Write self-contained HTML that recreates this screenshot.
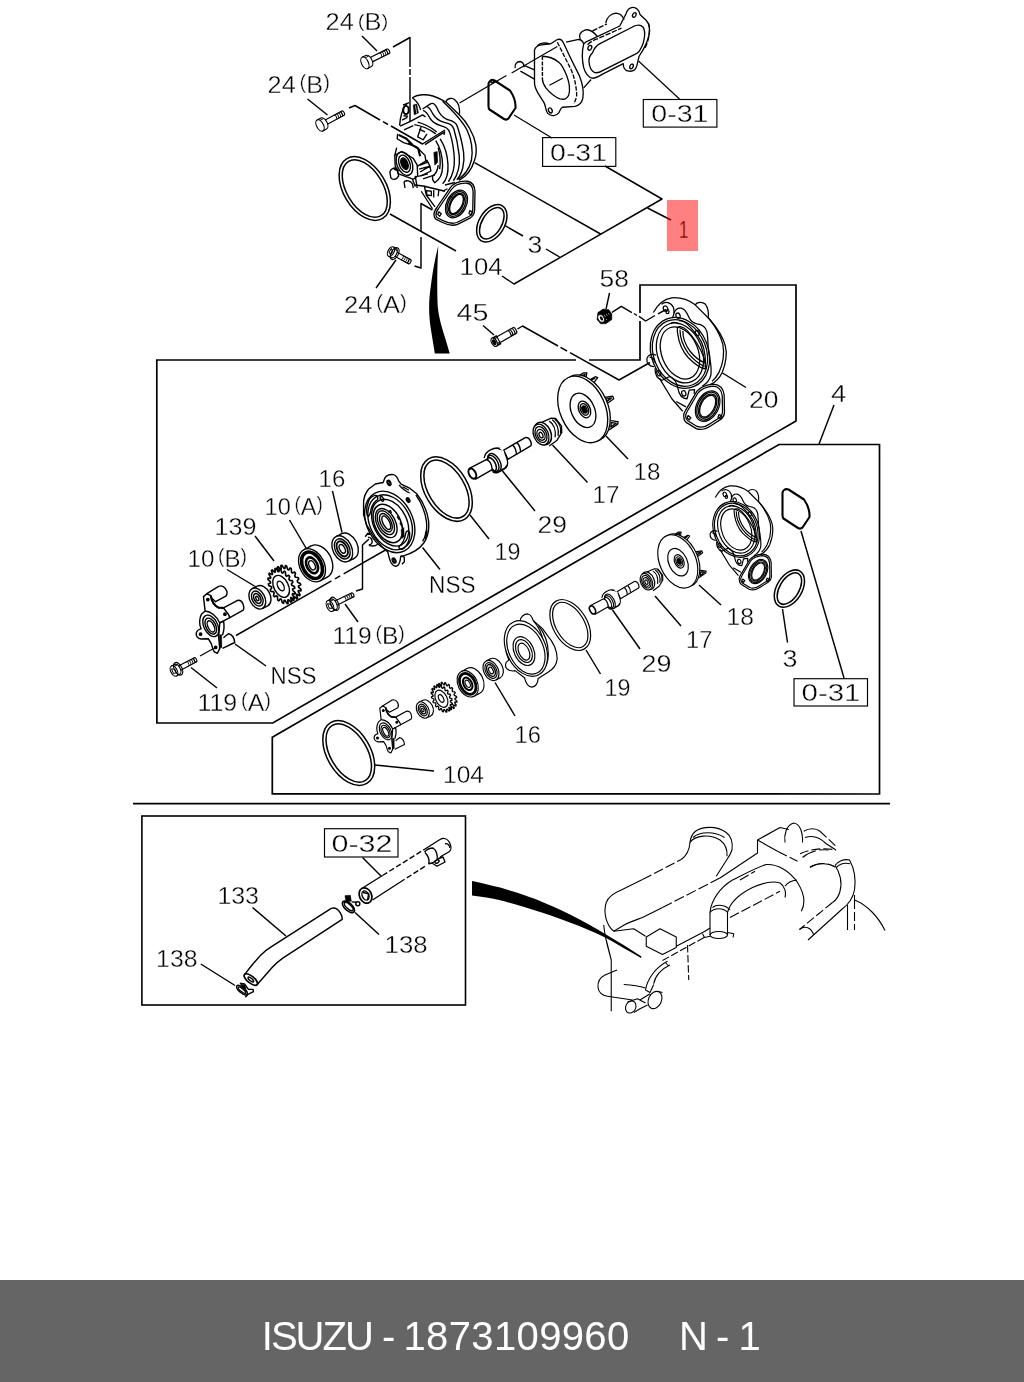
<!DOCTYPE html>
<html><head><meta charset="utf-8"><title>ISUZU - 1873109960 N - 1</title>
<style>
html,body{margin:0;padding:0;background:#fff}
body{width:1024px;height:1382px;overflow:hidden;position:relative;font-family:"Liberation Sans",sans-serif}
svg{position:absolute;left:0;top:0;display:block}
#bar{position:absolute;left:0;top:1280px;width:1024px;height:102px;background:#656565}
#cap{position:absolute;left:0;top:1280px;width:1024px;height:102px;color:#fff;font-size:40px;line-height:102px;white-space:pre;filter:grayscale(1)}
#cap span{position:absolute;top:5px}
</style></head><body>
<svg width="1024" height="1382" viewBox="0 0 1024 1382" font-family="'Liberation Sans',sans-serif" fill="none" stroke="#000" stroke-width="1.2" stroke-linecap="butt" stroke-linejoin="round">
<g stroke-width="1.7" stroke-linejoin="miter">
<path d="M576 360 L156.8 360 L156.9 723 L272.8 723 L796 421 L796 285 L640 285 L640 313 M640 321 L640 360 L589 360"/>
<path d="M779 444.5 L879.5 444.5 L879.5 794 L272.3 793.8 L272.3 737.2 Z"/>
<path d="M133 803.7 L890 803.7"/>
<rect x="141.9" y="816" width="323.6" height="189" stroke-width="1.6"/>
</g>
<g stroke-width="1.15" stroke-linejoin="miter">
<rect x="643.3" y="99.5" width="73.6" height="27.6"/>
<rect x="542.6" y="137.6" width="73.2" height="28.8"/>
<rect x="794" y="678.7" width="73.5" height="27.3"/>
<rect x="324.5" y="828.7" width="73.5" height="28.3"/>
</g>
<g stroke-linejoin="miter" style="filter:grayscale(1)">
<text x="325.6" y="30.3" font-size="23.2" textLength="62.7" lengthAdjust="spacingAndGlyphs" fill="#000" stroke="#fff" stroke-width="0.35">24<tspan font-size="12.8"> </tspan><tspan font-size="18.6" dy="-3.5">(</tspan><tspan dy="3.5">B</tspan><tspan font-size="18.6" dy="-3.5">)</tspan></text>
<text x="267.6" y="93.0" font-size="24.1" textLength="62.3" lengthAdjust="spacingAndGlyphs" fill="#000" stroke="#fff" stroke-width="0.35">24<tspan font-size="13.3"> </tspan><tspan font-size="19.3" dy="-3.6">(</tspan><tspan dy="3.6">B</tspan><tspan font-size="19.3" dy="-3.6">)</tspan></text>
<text x="651.3" y="122.0" font-size="24.1" textLength="57.2" lengthAdjust="spacingAndGlyphs" fill="#000" stroke="#fff" stroke-width="0.35">0-31</text>
<text x="550.1" y="161.0" font-size="24.1" textLength="56.9" lengthAdjust="spacingAndGlyphs" fill="#000" stroke="#fff" stroke-width="0.35">0-31</text>
<text x="527.6" y="252.5" font-size="23.4" textLength="14.8" lengthAdjust="spacingAndGlyphs" fill="#000" stroke="#fff" stroke-width="0.35">3</text>
<text x="459.6" y="275.0" font-size="24.1" textLength="42.9" lengthAdjust="spacingAndGlyphs" fill="#000" stroke="#fff" stroke-width="0.35">104</text>
<text x="344.0" y="313.0" font-size="24.8" textLength="62.9" lengthAdjust="spacingAndGlyphs" fill="#000" stroke="#fff" stroke-width="0.35">24<tspan font-size="13.6"> </tspan><tspan font-size="19.8" dy="-3.7">(</tspan><tspan dy="3.7">A</tspan><tspan font-size="19.8" dy="-3.7">)</tspan></text>
<text x="456.6" y="321.0" font-size="24.1" textLength="31.9" lengthAdjust="spacingAndGlyphs" fill="#000" stroke="#fff" stroke-width="0.35">45</text>
<text x="599.6" y="287.0" font-size="23.4" textLength="29.3" lengthAdjust="spacingAndGlyphs" fill="#000" stroke="#fff" stroke-width="0.35">58</text>
<text x="749.1" y="408.0" font-size="24.1" textLength="29.4" lengthAdjust="spacingAndGlyphs" fill="#000" stroke="#fff" stroke-width="0.35">20</text>
<text x="831.1" y="402.0" font-size="24.1" textLength="15.4" lengthAdjust="spacingAndGlyphs" fill="#000" stroke="#fff" stroke-width="0.35">4</text>
<text x="633.6" y="479.5" font-size="24.1" textLength="26.9" lengthAdjust="spacingAndGlyphs" fill="#000" stroke="#fff" stroke-width="0.35">18</text>
<text x="592.6" y="503.0" font-size="24.1" textLength="26.9" lengthAdjust="spacingAndGlyphs" fill="#000" stroke="#fff" stroke-width="0.35">17</text>
<text x="318.6" y="487.0" font-size="24.1" textLength="26.7" lengthAdjust="spacingAndGlyphs" fill="#000" stroke="#fff" stroke-width="0.35">16</text>
<text x="264.6" y="514.5" font-size="24.1" textLength="58.3" lengthAdjust="spacingAndGlyphs" fill="#000" stroke="#fff" stroke-width="0.35">10<tspan font-size="13.3"> </tspan><tspan font-size="19.3" dy="-3.6">(</tspan><tspan dy="3.6">A</tspan><tspan font-size="19.3" dy="-3.6">)</tspan></text>
<text x="214.6" y="535.0" font-size="24.1" textLength="41.9" lengthAdjust="spacingAndGlyphs" fill="#000" stroke="#fff" stroke-width="0.35">139</text>
<text x="187.5" y="566.5" font-size="24.8" textLength="59.4" lengthAdjust="spacingAndGlyphs" fill="#000" stroke="#fff" stroke-width="0.35">10<tspan font-size="13.6"> </tspan><tspan font-size="19.8" dy="-3.7">(</tspan><tspan dy="3.7">B</tspan><tspan font-size="19.8" dy="-3.7">)</tspan></text>
<text x="537.6" y="533.0" font-size="24.1" textLength="29.4" lengthAdjust="spacingAndGlyphs" fill="#000" stroke="#fff" stroke-width="0.35">29</text>
<text x="494.6" y="559.5" font-size="24.1" textLength="25.9" lengthAdjust="spacingAndGlyphs" fill="#000" stroke="#fff" stroke-width="0.35">19</text>
<text x="429.1" y="592.5" font-size="24.1" textLength="46.4" lengthAdjust="spacingAndGlyphs" fill="#000" stroke="#fff" stroke-width="0.35">NSS</text>
<text x="332.5" y="643.5" font-size="24.8" textLength="72.4" lengthAdjust="spacingAndGlyphs" fill="#000" stroke="#fff" stroke-width="0.35">119<tspan font-size="13.6"> </tspan><tspan font-size="19.8" dy="-3.7">(</tspan><tspan dy="3.7">B</tspan><tspan font-size="19.8" dy="-3.7">)</tspan></text>
<text x="270.5" y="683.5" font-size="24.8" textLength="46.0" lengthAdjust="spacingAndGlyphs" fill="#000" stroke="#fff" stroke-width="0.35">NSS</text>
<text x="197.5" y="710.5" font-size="24.8" textLength="73.4" lengthAdjust="spacingAndGlyphs" fill="#000" stroke="#fff" stroke-width="0.35">119<tspan font-size="13.6"> </tspan><tspan font-size="19.8" dy="-3.7">(</tspan><tspan dy="3.7">A</tspan><tspan font-size="19.8" dy="-3.7">)</tspan></text>
<text x="726.6" y="624.5" font-size="24.1" textLength="27.4" lengthAdjust="spacingAndGlyphs" fill="#000" stroke="#fff" stroke-width="0.35">18</text>
<text x="686.1" y="648.0" font-size="24.1" textLength="26.4" lengthAdjust="spacingAndGlyphs" fill="#000" stroke="#fff" stroke-width="0.35">17</text>
<text x="641.6" y="672.0" font-size="24.1" textLength="29.9" lengthAdjust="spacingAndGlyphs" fill="#000" stroke="#fff" stroke-width="0.35">29</text>
<text x="604.6" y="696.0" font-size="24.1" textLength="25.9" lengthAdjust="spacingAndGlyphs" fill="#000" stroke="#fff" stroke-width="0.35">19</text>
<text x="782.6" y="667.0" font-size="24.1" textLength="14.9" lengthAdjust="spacingAndGlyphs" fill="#000" stroke="#fff" stroke-width="0.35">3</text>
<text x="801.6" y="701.0" font-size="24.1" textLength="58.9" lengthAdjust="spacingAndGlyphs" fill="#000" stroke="#fff" stroke-width="0.35">0-31</text>
<text x="514.6" y="742.5" font-size="24.1" textLength="26.4" lengthAdjust="spacingAndGlyphs" fill="#000" stroke="#fff" stroke-width="0.35">16</text>
<text x="443.1" y="782.5" font-size="24.1" textLength="40.9" lengthAdjust="spacingAndGlyphs" fill="#000" stroke="#fff" stroke-width="0.35">104</text>
<text x="331.5" y="851.5" font-size="24.8" textLength="61.0" lengthAdjust="spacingAndGlyphs" fill="#000" stroke="#fff" stroke-width="0.35">0-32</text>
<text x="217.4" y="904.0" font-size="24.1" textLength="41.6" lengthAdjust="spacingAndGlyphs" fill="#000" stroke="#fff" stroke-width="0.35">133</text>
<text x="156.1" y="967.0" font-size="24.1" textLength="41.4" lengthAdjust="spacingAndGlyphs" fill="#000" stroke="#fff" stroke-width="0.35">138</text>
<text x="384.6" y="953.0" font-size="24.1" textLength="42.9" lengthAdjust="spacingAndGlyphs" fill="#000" stroke="#fff" stroke-width="0.35">138</text>
</g>
<rect x="667" y="200" width="31" height="51" fill="#ff8080" stroke="none"/>
<text x="679.1" y="238.0" font-size="24.1" textLength="9.4" lengthAdjust="spacingAndGlyphs" fill="#800000" stroke="#ff8080" stroke-width="0.3">1</text>
<g stroke-width="1.45">
<path d="M362 36 L377 51"/>
<path d="M307.5 99 L327.5 115"/>
<path d="M376 288 L396 260"/>
<path d="M390 214 L456 251"/>
<path d="M605 166 L662 199 L514 284 L502 276"/>
<path d="M647.5 208 L667 218"/>
<path d="M474.6 162.6 L600.6 234"/>
<path d="M546 249 L559.6 257"/>
<path d="M505 225.6 L523 236"/>
<path d="M483 325.5 L494 335"/>
<path d="M609.5 293 L606.1 308.8"/>
<path d="M722.5 373 L746 387.5"/>
<path d="M834 405 L819 444"/>
<path d="M606 436 L628 459"/>
<path d="M552.5 445 L587.5 482.5"/>
<path d="M332.5 491 L342 532.5"/>
<path d="M289.5 520 L306 548"/>
<path d="M255 536 L274 561"/>
<path d="M227 569.5 L256 587"/>
<path d="M502.5 471 L535 511"/>
<path d="M470 515 L489 539"/>
<path d="M422.5 547.5 L440 569.5"/>
<path d="M345 604 L358 622"/>
<path d="M235 644 L266 666"/>
<path d="M191 667.5 L217 688"/>
<path d="M699 585 L721 605"/>
<path d="M655 596 L681 626"/>
<path d="M612.5 610 L640 649"/>
<path d="M586 650 L600.5 674"/>
<path d="M782.5 609 L787.5 642.5"/>
<path d="M801 531 L844 678"/>
<path d="M495 682.5 L515 716"/>
<path d="M375 765 L434 771"/>
<path d="M252.5 907.5 L286 936"/>
<path d="M200.8 964 L235 985.5"/>
<path d="M355 912.5 L379 934.5"/>
<path d="M362.5 857.5 L381 876"/>
<path d="M667 218 L671 220" stroke="#800000"/>
<path d="M393 47 L410 37.5 L410 67"/>
<path d="M410 69 L410 75"/>
<path d="M410 77 L410 122"/>
<path d="M349 108 L355 105.5 L380 120"/>
<path d="M383 121.7 L388 124.5"/>
<path d="M391 126 L422.5 144 L445 130"/>
<path d="M414.5 266 L421 268 L421 237"/>
<path d="M421 231 L421 203.5 L432.5 210"/>
<path d="M517.5 329 L522.5 326 L558 346"/>
<path d="M560.5 347.4 L567 351"/>
<path d="M570 352.6 L619 380 L650 362.5"/>
<path d="M612 312.3 L621.3 306.4 L631.9 312.6"/>
<path d="M634 313.5 L636.9 315.5"/>
<path d="M638.9 316.4 L645.7 321 L655 315.5"/>
<path d="M658 313.8 L666 309.5"/>
<path d="M356 591 L362.5 589 L362.5 545 L369 539"/>
<path d="M236 635.5 L392.5 546" stroke-dasharray="110 4 6 4"/>
</g>
<g transform="translate(364.75 188.5) rotate(-30.8)" stroke-width="1.5"><ellipse rx="21.4" ry="34.9"/><ellipse rx="18.2" ry="31.7"/></g>
<g transform="translate(491.8 223.3) rotate(31)" stroke-width="1.5"><ellipse rx="12.8" ry="20.4"/><ellipse rx="9.8" ry="17.4"/></g>
<g transform="translate(446.5 489.1) rotate(-30.8)" stroke-width="1.5"><ellipse rx="21.5" ry="35.2"/><ellipse rx="18.2" ry="31.900000000000002"/></g>
<g transform="translate(570.25 625) rotate(-30.8)" stroke-width="1.2"><ellipse rx="17" ry="27.8"/><ellipse rx="14.2" ry="25.0"/></g>
<g transform="translate(348.75 753) rotate(-30.8)" stroke-width="1.5"><ellipse rx="21.6" ry="35.4"/><ellipse rx="18.3" ry="32.1"/></g>
<g transform="translate(789.4 588.6) rotate(31)" stroke-width="1.5"><ellipse rx="12.7" ry="20.4"/><ellipse rx="9.7" ry="17.4"/></g>
<path d="M784 490 Q786 488.5 788.5 489.5 L804 499.5 Q810 508 809.5 517 L802.5 527.5 Q800.5 529.5 798 528 L783.5 518.5 Q782.5 517.5 782.5 515 L782.5 493 Q782.5 491 784 490Z" stroke-width="2.1"/>
<path d="M490 81 Q492 79.5 494.5 80.5 L510 90.5 Q516 99 515.5 108 L508.5 118.5 Q506.5 120.5 504 119 L489.5 109.5 Q488.5 108.5 488.5 106 L488.5 84 Q488.5 82 490 81Z" stroke-width="2.1"/>
<path d="M438.3 245.4 C436 255 433.3 267 431 285 C428.5 300 428.5 315 431 330 L434.8 353.5 L449.7 353.5 C446 340 443.5 333 442.6 329.75 C439 318 437.5 308 437.5 301.6 C437 285 437.2 267 438.3 245.4Z" fill="#000" stroke="none"/>
<path d="M472 880.9 C482 883 491 885.2 500.2 887.6 C512 891 524 894.6 535.3 899 C547 903.8 559 909 570.5 914.8 C582 920.8 594 927.3 605.6 934.2 C617 941 629 948.3 641.5 956.5 L641 958 C629 951 617 944 605.6 937.7 C594 932 582 927 570.5 922.7 C559 918.3 547 914 535.3 910.4 C524 907 512 903.3 500.2 900.2 C491 898.3 482 896.8 472 895.5Z" fill="#000" stroke="none"/>
<g transform="translate(384 88) scale(0.0976562)" stroke-width="14.08">
<path d="M290 100 C340 65 430 60 500 82 C560 100 600 125 632 142"/>
<path d="M632 142 C645 105 700 95 725 120 C760 150 778 210 773 265"/>
<path d="M632 142 L770 275 C850 350 920 470 940 580 C950 650 940 710 925 745 C900 830 850 900 770 945"/>
<path d="M600 135 C700 230 800 330 850 430 C900 540 910 660 895 740 C875 820 830 890 760 935"/>
<path d="M290 100 C330 130 365 180 375 225"/>
<path d="M395 215 L480 160 C510 150 530 175 545 210 C565 260 600 300 640 320 C690 335 730 340 745 380 C775 460 800 560 815 660 C830 770 800 880 745 940"/>
<path d="M440 190 C470 200 480 230 500 265 C520 300 560 335 610 350 C660 365 700 370 715 420 C740 500 760 600 770 690 C780 790 760 880 710 950"/>
<path d="M400 230 C430 240 450 270 465 300 C490 345 530 370 580 385 C630 400 660 410 675 460 C700 540 715 630 720 720 C725 810 700 900 660 960"/>
<path d="M575 520 C620 590 650 680 655 780 C660 870 640 940 600 980"/>
<path d="M530 540 C580 620 600 700 600 800 C600 880 570 940 520 970 C500 950 490 930 500 900 C530 880 550 840 555 790"/>
<path d="M555 610 C575 680 580 760 570 830"/>
<path d="M160 385 C165 300 185 220 230 160 L260 150"/>
<path d="M165 390 L265 345 L395 275 L425 295 M185 330 L240 300 M205 430 L300 385"/>
<path d="M310 375 C400 390 480 430 530 470 M345 350 C420 370 490 410 540 450 M380 400 L345 500 L400 530 L440 470 M360 420 L420 450"/>
<path d="M420 580 L620 450 L615 480"/>
<ellipse cx="225" cy="225" rx="28" ry="42" stroke-width="20"/><path d="M195 175 L240 160 M200 285 L245 290" stroke-width="16"/><path d="M300 175 L335 165 L352 255 L310 275Z" fill="#000" stroke-width="6"/><path d="M322 180 L335 260" stroke="#fff" stroke-width="7"/>
<path d="M140 470 L135 520 L200 560 L330 600 L420 690 L430 760"/>
<path d="M150 480 L230 520 L290 580 M250 560 L350 620 L370 700" stroke-width="22"/>
<path d="M130 610 L110 690 L115 800 L150 880 L290 930 L320 1010 M110 690 L180 650 L300 720 L340 790 L345 900 L300 935 M345 800 L440 740 L470 800 L370 860 M370 790 L450 760 M360 830 L470 800 L480 850 L380 900"/>
<g transform="translate(210 775) rotate(-22)"><ellipse rx="78" ry="125"/><ellipse rx="55" ry="92"/><ellipse rx="33" ry="62" fill="#000"/></g>
<path d="M510 660 L545 650 L550 760 L520 790Z" fill="#000" stroke-width="6"/>
<path d="M60 860 C70 820 110 810 135 830 L150 900 C130 940 90 945 70 920Z M100 830 L150 850"/>
<path d="M205 960 C230 940 270 950 290 980 L300 1024 M205 960 L215 1024"/>
<path d="M320 900 L340 1024 M350 905 L450 880 M400 930 L520 890" />
</g>
<g transform="translate(380 85) scale(0.125)" stroke-width="10.56">
<path d="M432 1040 C430 1015 440 1000 455 980 L560 825 C590 785 640 765 700 770 C735 775 755 800 760 850 L757 1000 C755 1035 745 1050 720 1065 L620 1115 C580 1130 540 1120 500 1100 L450 1075 C435 1065 432 1055 432 1040Z"/>
<path d="M448 1040 C446 1020 455 1005 468 988 L570 838 C597 800 645 782 698 786 C728 790 742 812 745 855 L742 1000 C740 1028 733 1040 712 1052 L615 1100 C580 1113 545 1105 508 1087 L462 1064 C450 1058 448 1050 448 1040Z"/>
<g transform="translate(612 952) rotate(28)"><ellipse rx="78" ry="118"/><ellipse rx="66" ry="106"/><ellipse rx="52" ry="92"/><ellipse rx="44" ry="84"/></g>
<path d="M470 1015 L490 1030 L478 1050 L462 1035Z M718 1005 L738 1015 L730 1040 L712 1028Z"/>
<path d="M330 850 L420 990 M355 810 L370 880 L440 975 M355 810 L520 850 M372 845 L410 850 L412 885 L375 880Z M430 840 L430 900 M470 845 L465 890 M500 850 L540 830"/>
<path d="M280 800 L360 810 M520 800 L600 780"/>
</g>
<g transform="translate(364.9 62.9) rotate(-26.6)" stroke-width="1.15"><path d="M0 -6.2 L4.2 -6.2 A3.4 6.2 0 0 1 4.2 6.2 L0 6.2"/><ellipse cx="0" cy="0" rx="3.4" ry="6.2" fill="#fff"/><path d="M7.09 -2.4 L26 -2.4 A1.3 2.4 0 0 1 26 2.4 L7.09 2.4"/><path d="M26 -2.4 A1.3 2.4 0 0 0 26 2.4" stroke-width="0.9"/><path d="M23.8 -2.4 A1.3 2.4 0 0 1 23.8 2.4" stroke-width="0.9"/><path d="M21.6 -2.4 A1.3 2.4 0 0 1 21.6 2.4" stroke-width="0.9"/><path d="M19.4 -2.4 A1.3 2.4 0 0 1 19.4 2.4" stroke-width="0.9"/><path d="M17.2 -2.4 A1.3 2.4 0 0 1 17.2 2.4" stroke-width="0.9"/><path d="M2.38 -4.4639999999999995 L6.58 -4.4639999999999995" stroke-width="0.9"/></g>
<g transform="translate(320 125.4) rotate(-28)" stroke-width="1.15"><path d="M0 -6.2 L4.2 -6.2 A3.4 6.2 0 0 1 4.2 6.2 L0 6.2"/><ellipse cx="0" cy="0" rx="3.4" ry="6.2" fill="#fff"/><path d="M7.09 -2.4 L26 -2.4 A1.3 2.4 0 0 1 26 2.4 L7.09 2.4"/><path d="M26 -2.4 A1.3 2.4 0 0 0 26 2.4" stroke-width="0.9"/><path d="M23.8 -2.4 A1.3 2.4 0 0 1 23.8 2.4" stroke-width="0.9"/><path d="M21.6 -2.4 A1.3 2.4 0 0 1 21.6 2.4" stroke-width="0.9"/><path d="M19.4 -2.4 A1.3 2.4 0 0 1 19.4 2.4" stroke-width="0.9"/><path d="M17.2 -2.4 A1.3 2.4 0 0 1 17.2 2.4" stroke-width="0.9"/><path d="M2.38 -4.4639999999999995 L6.58 -4.4639999999999995" stroke-width="0.9"/></g>
<g transform="translate(391 251.6) rotate(28.5)" stroke-width="1.15"><path d="M0 -5.2 L3 -5.2 A3 5.2 0 0 1 3 5.2 L0 5.2"/><ellipse cx="0" cy="0" rx="3" ry="5.2" fill="#fff"/><ellipse cx="4.2" cy="0" rx="3.6" ry="6.5"/><path d="M-1.2000000000000002 -2.8600000000000003 L1.5 -1.04 L1.2000000000000002 2.8600000000000003 L-1.5 1.56Z" stroke-width="0.9"/><path d="M5.55 -2.3 L21 -2.3 A1.3 2.3 0 0 1 21 2.3 L5.55 2.3"/><path d="M21 -2.3 A1.3 2.3 0 0 0 21 2.3" stroke-width="0.9"/><path d="M18.8 -2.3 A1.3 2.3 0 0 1 18.8 2.3" stroke-width="0.9"/><path d="M16.6 -2.3 A1.3 2.3 0 0 1 16.6 2.3" stroke-width="0.9"/><path d="M14.4 -2.3 A1.3 2.3 0 0 1 14.4 2.3" stroke-width="0.9"/><path d="M12.2 -2.3 A1.3 2.3 0 0 1 12.2 2.3" stroke-width="0.9"/><path d="M2.0999999999999996 -3.7439999999999998 L5.1 -3.7439999999999998" stroke-width="0.9"/></g>
<g transform="translate(174 671) rotate(-27.6)" stroke-width="1.15"><path d="M0 -5.6 L3.5 -5.6 A3.2 5.6 0 0 1 3.5 5.6 L0 5.6"/><ellipse cx="0" cy="0" rx="3.2" ry="5.6" fill="#fff"/><ellipse cx="4.7" cy="0" rx="3.8000000000000003" ry="6.8999999999999995"/><path d="M-1.2800000000000002 -3.08 L1.6 -1.1199999999999999 L1.2800000000000002 3.08 L-1.6 1.68Z" stroke-width="0.9"/><path d="M6.220000000000001 -2.3 L24 -2.3 A1.3 2.3 0 0 1 24 2.3 L6.220000000000001 2.3"/><path d="M24 -2.3 A1.3 2.3 0 0 0 24 2.3" stroke-width="0.9"/><path d="M21.8 -2.3 A1.3 2.3 0 0 1 21.8 2.3" stroke-width="0.9"/><path d="M19.6 -2.3 A1.3 2.3 0 0 1 19.6 2.3" stroke-width="0.9"/><path d="M17.4 -2.3 A1.3 2.3 0 0 1 17.4 2.3" stroke-width="0.9"/><path d="M15.2 -2.3 A1.3 2.3 0 0 1 15.2 2.3" stroke-width="0.9"/><path d="M2.2399999999999998 -4.032 L5.74 -4.032" stroke-width="0.9"/></g>
<g transform="translate(330 606) rotate(-26)" stroke-width="1.15"><path d="M0 -5.8 L3.8 -5.8 A3.2 5.8 0 0 1 3.8 5.8 L0 5.8"/><ellipse cx="0" cy="0" rx="3.2" ry="5.8" fill="#fff"/><ellipse cx="5.0" cy="0" rx="3.8000000000000003" ry="7.1"/><path d="M-1.2800000000000002 -3.19 L1.6 -1.16 L1.2800000000000002 3.19 L-1.6 1.74Z" stroke-width="0.9"/><path d="M6.52 -2.3 L25 -2.3 A1.3 2.3 0 0 1 25 2.3 L6.52 2.3"/><path d="M25 -2.3 A1.3 2.3 0 0 0 25 2.3" stroke-width="0.9"/><path d="M22.8 -2.3 A1.3 2.3 0 0 1 22.8 2.3" stroke-width="0.9"/><path d="M20.6 -2.3 A1.3 2.3 0 0 1 20.6 2.3" stroke-width="0.9"/><path d="M18.4 -2.3 A1.3 2.3 0 0 1 18.4 2.3" stroke-width="0.9"/><path d="M16.2 -2.3 A1.3 2.3 0 0 1 16.2 2.3" stroke-width="0.9"/><path d="M2.2399999999999998 -4.176 L6.039999999999999 -4.176" stroke-width="0.9"/></g>
<g transform="translate(494.2 342.2) rotate(-29.8)"><path d="M0 -4.6 L5 -4.6 L5 4.6 L0 4.6"/><ellipse rx="2.6" ry="4.6" fill="#fff"/><ellipse rx="1.3" ry="2.6" fill="#000"/><path d="M1 -3.8 L5 -3.8 M1.6 -2.6 L5 -2.6 M2.2 2.6 L5 2.6 M1.4 3.8 L5 3.8" stroke-width="0.9"/><path d="M5 -3.3 L23.5 -3.3 A1.6 3.3 0 0 1 23.5 3.3 L5 3.3 M17 -3.3 A1.5 3.3 0 0 1 17 3.3 M19 -3.3 A1.5 3.3 0 0 1 19 3.3 M21.5 -3.3 A1.5 3.3 0 0 1 21.5 3.3"/></g>
<g transform="translate(590 295) scale(0.0585823)" stroke-width="22.5324"><path d="M135 300 L225 240 L320 250 L372 320 L372 420 L270 490 L180 490 L120 420Z" fill="#000" stroke-width="10"/><ellipse cx="190" cy="400" rx="50" ry="72" transform="rotate(-30 190 400)" fill="#fff" stroke-width="14"/><ellipse cx="195" cy="400" rx="22" ry="40" transform="rotate(-30 195 400)" fill="#000" stroke="none"/><path d="M245 345 L262 372 M278 328 L295 352 M312 312 L330 335 M275 410 L285 425" stroke="#fff" stroke-width="12"/></g>
<g transform="translate(480 0) scale(0.175778)" stroke-width="7.50948">
<path d="M310 285 C315 265 330 258 350 255 L400 250 L440 225 C455 220 468 228 475 245 L520 340 L565 430 C585 480 592 520 585 560 C578 590 565 600 540 605 L470 610 C458 615 455 630 448 642 C435 660 405 665 385 645 C372 630 375 605 365 585 L330 530 C315 505 310 490 310 470Z"/>
<path d="M355 320 C385 320 425 335 450 355 C470 372 480 395 495 435 C510 475 512 515 505 540 C495 562 475 568 455 562 C425 552 395 525 375 500 C360 480 355 465 355 450" />
<path d="M355 320 L355 450" stroke-dasharray="22 8" stroke-width="8"/>
<path d="M440 240 L470 300 L520 400 C540 450 550 500 550 550 L535 590" stroke-dasharray="26 8"/>
<path d="M395 485 L470 445"/>
<path d="M490 240 L555 225 C575 222 585 235 590 250 M590 500 L632 452"/>
<path d="M590 250 C600 235 610 232 625 228 L795 148 L830 80 C838 55 850 42 870 42 C895 42 905 60 910 82 L945 115 C962 135 968 165 962 195 C955 235 935 275 905 320 L892 375 C885 398 870 408 848 405 C825 402 815 385 815 362 L700 420 C675 435 660 445 640 445 C615 440 600 420 590 385 C582 350 578 300 590 250Z"/>
<path d="M640 300 C650 275 660 260 680 250 L870 152 C895 140 915 140 928 155 C940 172 940 200 930 240 C920 270 910 290 895 302 L700 400 C680 412 665 418 650 412 C632 402 622 380 620 350 C618 330 625 315 640 300Z"/>
<path d="M612 255 C630 235 650 228 665 222 L805 160" stroke-dasharray="30 9"/>
<path d="M958 130 C972 170 962 230 935 280" stroke-dasharray="30 9"/>
<ellipse cx="625" cy="272" rx="10" ry="14" transform="rotate(25 625 272)"/>
<ellipse cx="878" cy="85" rx="9" ry="14" transform="rotate(30 878 85)"/>
<ellipse cx="862" cy="378" rx="9" ry="14" transform="rotate(25 862 378)"/>
<ellipse cx="400" cy="628" rx="10" ry="15" transform="rotate(-25 400 628)"/>
<path d="M570 222 C560 200 570 180 600 170 C625 165 650 185 670 210 M715 130 C722 100 745 78 772 75 C795 75 812 92 820 112"/>
<path d="M640 176 L722 136" stroke-dasharray="30 9"/>
<path d="M200 388 C195 365 210 350 228 350 C242 352 250 365 250 382 M230 405 L310 450 M250 372 L310 397"/>
<path d="M325 262 C340 245 370 240 395 250" />
<circle cx="70" cy="462" r="9" stroke-width="9"/>
</g>
<path d="M459.5 103 L506.4 75.6"/>
<path d="M511.6 73 L557.3 46.6"/>
<path d="M514 115 L552 138"/>
<path d="M638.5 61 L680 99.5"/>
<g transform="translate(636 288) scale(0.108578)" stroke-width="11.6507">
<path d="M160 225 C200 150 260 100 330 90 C420 85 500 120 545 155 C560 128 610 122 640 150 C662 180 670 230 665 272"/>
<path d="M545 155 L680 290 C740 360 800 450 822 530 C840 600 832 680 795 775 C770 830 730 870 680 892"/>
<path d="M665 272 C730 350 780 440 800 520 C815 600 805 690 765 775 C745 815 725 840 700 860"/>
<g transform="translate(405 598) rotate(-22)">
<ellipse rx="262" ry="335"/><ellipse rx="243" ry="316"/><ellipse rx="205" ry="285"/><ellipse rx="168" ry="250"/>
</g>
<path d="M382 368 C395 350 430 352 470 390 C530 450 600 560 628 650 C640 700 642 730 638 745 C600 740 540 700 480 640 C430 585 395 500 385 430 C380 400 380 380 382 368Z"/>
<path d="M405 385 C405 450 430 530 480 600 C520 650 580 700 632 722 M432 395 C430 450 455 525 500 585 C540 635 590 672 635 690 M318 330 C330 315 360 312 395 330"/>
<path d="M350 232 C360 200 385 182 415 185 C450 190 470 230 485 265 C500 300 520 322 560 330 C610 335 640 355 652 400 C665 450 660 520 668 580 C680 660 700 720 690 800 C680 850 650 880 610 905"/>
<path d="M395 300 C420 300 450 310 480 340 C520 380 540 410 575 450 C620 510 640 600 640 700" />
<ellipse cx="272" cy="190" rx="20" ry="26" transform="rotate(-20 272 190)"/><ellipse cx="290" cy="218" rx="14" ry="18"/>
<ellipse cx="387" cy="255" rx="19" ry="25" transform="rotate(-20 387 255)"/>
<ellipse cx="565" cy="415" rx="18" ry="24" transform="rotate(-20 565 415)"/>
<ellipse cx="210" cy="785" rx="18" ry="25" transform="rotate(-20 210 785)"/>
<ellipse cx="440" cy="970" rx="19" ry="25" transform="rotate(-20 440 970)"/>
<path d="M235 150 C270 120 320 130 345 180 C355 215 350 250 335 275"/>
<path d="M185 620 C150 600 110 615 100 650 C95 690 125 725 165 725 M125 640 C150 635 170 655 170 685"/>
<path d="M175 740 C175 800 200 840 240 850 L310 815 C350 830 375 870 385 920 C395 980 420 1020 470 1020 L490 940 L540 935 L535 975"/>
<path d="M215 830 L330 1020 L430 1135 M370 1045 L460 1095"/>
<path d="M440 1185 C435 1160 445 1145 455 1130 L560 952 C590 915 640 890 715 885 C770 890 805 930 812 985 L815 1150 C812 1180 800 1195 780 1210 L690 1268 C640 1300 590 1310 555 1295 L465 1240 C445 1225 440 1205 440 1185Z"/>
<path d="M458 1185 C455 1165 462 1150 472 1135 L572 965 C600 930 645 908 712 903 C760 908 788 940 794 990 L797 1145 C795 1170 785 1182 768 1195 L682 1250 C638 1280 595 1288 563 1275 L480 1225 C462 1212 458 1200 458 1185Z"/>
<g transform="translate(660 1088) rotate(28)"><ellipse rx="100" ry="150"/><ellipse rx="88" ry="137"/><ellipse rx="72" ry="120"/><ellipse rx="62" ry="108"/></g>
<path d="M480 1175 L505 1195 L490 1215 L470 1198Z M765 1165 L790 1178 L778 1205 L755 1190Z"/>
</g>
<g transform="translate(520 365) scale(0.0976562)" stroke-width="13.5168"><path d="M585 122 L650 80 L685 80 L672 145 M625 112 L665 95 L652 140Z M700 160 L770 120 L795 130 L752 188 M725 158 L770 135"/><path d="M850 335 L950 320 L960 345 L892 395 M870 350 L935 340 L885 375Z M928 570 L1005 580 L1000 605 L912 665 M935 590 L985 595 L930 635Z"/><ellipse cx="668" cy="443" rx="231" ry="358" transform="rotate(-24 668 443)" fill="#fff"/><ellipse cx="642" cy="455" rx="231" ry="358" transform="rotate(-24 642 455)" fill="#fff"/><ellipse cx="645" cy="465" rx="119" ry="185" transform="rotate(-24 645 465)"/><ellipse cx="660" cy="455" rx="58" ry="90" transform="rotate(-24 660 455)"/><ellipse cx="660" cy="455" rx="40" ry="62" transform="rotate(-24 660 455)"/><ellipse cx="660" cy="455" rx="24" ry="38" transform="rotate(-24 660 455)" fill="#000"/><path d="M215 590 L320 545 L365 548 L425 625 L428 690 L380 770 L300 830" fill="#fff"/><path d="M300 575 C340 600 370 660 360 740 M330 560 C372 590 400 650 390 725 M355 552 C398 585 425 640 415 700"/><ellipse cx="235" cy="700" rx="80" ry="120" transform="rotate(-24 235 700)" fill="#fff" stroke-width="16"/><ellipse cx="215" cy="712" rx="74" ry="112" transform="rotate(-24 215 712)" fill="#fff"/><ellipse cx="215" cy="712" rx="56" ry="85" transform="rotate(-24 215 712)"/><ellipse cx="215" cy="715" rx="38" ry="58" transform="rotate(-24 215 715)" stroke-width="14"/><ellipse cx="215" cy="718" rx="18" ry="30" transform="rotate(-24 215 718)"/></g>
<g transform="translate(460 425) scale(0.078125)" stroke-width="18.304"><path d="M560 322 L835 162 C860 150 890 175 905 210 C915 235 915 255 905 268 L612 440Z" fill="#fff"/><path d="M672 258 C700 280 720 330 722 375 M728 226 C755 250 772 295 775 340"/><ellipse cx="505" cy="435" rx="92" ry="140" transform="rotate(-28 505 435)" fill="#fff"/><path d="M310 425 L385 330 L440 300 L560 330 L600 500 L470 610 L420 600Z" fill="#fff" stroke="none"/><path d="M310 425 C315 380 345 340 390 318 C430 298 480 292 510 300 M600 515 C585 555 540 585 480 608 C455 615 435 610 420 600"/><ellipse cx="440" cy="482" rx="72" ry="128" transform="rotate(-28 440 482)" fill="#fff"/><ellipse cx="425" cy="492" rx="60" ry="112" transform="rotate(-28 425 492)"/><ellipse cx="405" cy="505" rx="48" ry="95" transform="rotate(-28 405 505)" stroke-width="20"/><path d="M120 555 L330 445 C370 440 410 500 412 572 L200 692Z" fill="#fff"/><ellipse cx="158" cy="622" rx="42" ry="70" transform="rotate(-28 158 622)" fill="#fff" stroke-width="26"/></g>
<g transform="translate(355 468) scale(0.078125)" stroke-width="17.6"><path d="M790 330 C860 420 925 540 942 680 C952 790 930 890 880 960 C830 1030 740 1090 620 1125 L585 1130 C582 1180 575 1225 545 1250 C515 1265 480 1245 460 1210 C440 1170 430 1120 420 1075 L350 1010 L240 880 L150 730 L110 600 L110 430 C115 370 140 310 175 268 L260 205 L360 185 L382 128 C405 95 445 80 490 85 C525 92 545 125 560 168 L590 205 L705 262Z" fill="#fff"/><path d="M780 345 C845 440 900 560 915 690 C925 790 905 880 865 940"/><path d="M590 1125 L630 1140 L632 1200 L600 1232 M565 215 C590 250 640 290 700 320 M610 240 L690 285"/><ellipse cx="445" cy="690" rx="292" ry="415" transform="rotate(-27 445 690)"/><ellipse cx="450" cy="695" rx="258" ry="372" transform="rotate(-27 450 695)"/><ellipse cx="450" cy="700" rx="212" ry="318" transform="rotate(-27 450 700)"/><ellipse cx="420" cy="710" rx="165" ry="262" transform="rotate(-27 420 710)" stroke-width="20"/><ellipse cx="400" cy="705" rx="118" ry="200" transform="rotate(-27 400 705)"/><ellipse cx="395" cy="700" rx="92" ry="165" transform="rotate(-27 395 700)"/><ellipse cx="395" cy="700" rx="66" ry="128" transform="rotate(-27 395 700)"/><ellipse cx="400" cy="700" rx="42" ry="95" transform="rotate(-27 400 700)"/><ellipse cx="435" cy="190" rx="22" ry="36" transform="rotate(-27 435 190)"/><ellipse cx="680" cy="410" rx="20" ry="32" transform="rotate(-27 680 410)"/><ellipse cx="345" cy="395" rx="18" ry="32" transform="rotate(-27 345 395)"/><ellipse cx="500" cy="1185" rx="21" ry="34" transform="rotate(-27 500 1185)"/><ellipse cx="435" cy="190" rx="12" ry="22" transform="rotate(-27 435 190)"/><ellipse cx="680" cy="410" rx="10" ry="18" transform="rotate(-27 680 410)"/><ellipse cx="500" cy="1185" rx="11" ry="20" transform="rotate(-27 500 1185)"/><path d="M170 440 C180 395 215 360 260 350 C285 350 295 370 290 405 C255 425 220 470 205 530 C200 570 195 600 170 620 C145 610 140 500 170 440Z"/><path d="M560 1010 C600 980 635 920 648 840 C655 800 690 795 700 830 C705 900 680 975 625 1030 C600 1045 565 1045 560 1010Z"/><path d="M590 790 L625 760 L630 880 L600 900Z M900 820 L925 800 L915 900 L895 905Z" fill="#000" stroke-width="6"/><path d="M130 880 L165 835 L200 850 M165 885 C200 885 222 910 220 950 C215 975 195 985 175 980 M180 990 C220 1005 260 1000 292 975"/><path d="M425 560 L455 545 L465 580 M540 620 L565 660 M575 700 L600 745" stroke-width="18"/></g>
<g transform="translate(245 528) scale(0.117192)" stroke-width="11.7329"><ellipse cx="878" cy="154" rx="80" ry="118" transform="rotate(-27 878 154)" fill="#fff"/><path d="M884 283 L932 259 L824 49 L776 73Z" fill="#fff" stroke="none"/><path d="M884 283 L932 259 M824 49 L776 73"/><ellipse cx="830" cy="178" rx="80" ry="118" transform="rotate(-27 830 178)" fill="#fff"/><ellipse cx="830" cy="178" rx="60" ry="92" transform="rotate(-27 830 178)"/><ellipse cx="830" cy="178" rx="42" ry="70" transform="rotate(-27 830 178)" stroke-width="16"/><ellipse cx="830" cy="178" rx="22" ry="40" transform="rotate(-27 830 178)"/><ellipse cx="634" cy="286" rx="104" ry="150" transform="rotate(-27 634 286)" fill="#fff"/><path d="M640 452 L702 420 L566 152 L504 184Z" fill="#fff" stroke="none"/><path d="M640 452 L702 420 M566 152 L504 184"/><ellipse cx="572" cy="318" rx="104" ry="150" transform="rotate(-27 572 318)" fill="#fff"/><ellipse cx="572" cy="318" rx="80" ry="120" transform="rotate(-27 572 318)" stroke-width="30"/><ellipse cx="572" cy="318" rx="45" ry="72" transform="rotate(-27 572 318)" stroke-width="22"/><ellipse cx="572" cy="318" rx="24" ry="42" transform="rotate(-27 572 318)" fill="#fff"/><path d="M453 422 L459 434 L446 451 L449 462 L472 473 L475 486 L456 494 L457 504 L478 524 L478 536 L456 533 L454 542 L470 568 L466 578 L443 565 L439 571 L449 600 L442 606 L422 585 L415 588 L418 616 L409 618 L392 591 L384 590 L379 615 L369 611 L360 582 L351 578 L339 595 L329 588 L327 559 L320 552 L301 560 L293 550 L299 526 L293 516 L271 514 L265 502 L278 485 L275 474 L252 463 L249 450 L268 442 L267 432 L246 412 L246 400 L268 403 L270 394 L254 368 L258 358 L281 371 L285 365 L275 336 L282 330 L302 351 L309 348 L306 320 L315 318 L332 345 L340 346 L345 321 L355 325 L364 354 L373 358 L385 341 L395 348 L397 377 L404 384 L423 376 L431 386 L425 410 L431 420Z" fill="#fff" stroke-width="14"/><path d="M403 449 L409 461 L396 478 L399 489 L422 500 L425 513 L406 521 L407 531 L428 551 L428 563 L406 560 L404 569 L420 595 L416 605 L393 592 L389 598 L399 627 L392 633 L372 612 L365 615 L368 643 L359 645 L342 618 L334 617 L329 642 L319 638 L310 609 L301 605 L289 622 L279 615 L277 586 L270 579 L251 587 L243 577 L249 553 L243 543 L221 541 L215 529 L228 512 L225 501 L202 490 L199 477 L218 469 L217 459 L196 439 L196 427 L218 430 L220 421 L204 395 L208 385 L231 398 L235 392 L225 363 L232 357 L252 378 L259 375 L256 347 L265 345 L282 372 L290 373 L295 348 L305 352 L314 381 L323 385 L335 368 L345 375 L347 404 L354 411 L373 403 L381 413 L375 437 L381 447Z" fill="#fff" stroke-width="14"/><ellipse cx="308" cy="498" rx="62" ry="100" transform="rotate(-27 308 498)"/><ellipse cx="305" cy="495" rx="25" ry="45" transform="rotate(-27 305 495)"/><ellipse cx="150" cy="580" rx="64" ry="95" transform="rotate(-27 150 580)" fill="#fff"/><path d="M148 687 L193 665 L107 495 L62 517Z" fill="#fff" stroke="none"/><path d="M148 687 L193 665 M107 495 L62 517"/><ellipse cx="105" cy="602" rx="64" ry="95" transform="rotate(-27 105 602)" fill="#fff"/><ellipse cx="105" cy="602" rx="44" ry="68" transform="rotate(-27 105 602)"/><ellipse cx="105" cy="602" rx="27" ry="45" transform="rotate(-27 105 602)" stroke-width="14"/><ellipse cx="105" cy="602" rx="11" ry="20" transform="rotate(-27 105 602)"/></g>
<g transform="translate(160 580) scale(0.0976562)" stroke-width="14.6432"><path d="M480 140 L600 65 C625 55 655 65 672 90 C688 115 688 145 678 162 L570 222Z" fill="#fff"/><path d="M650 285 L790 210 C815 202 835 212 848 240 C860 270 860 295 852 308 L715 385Z" fill="#fff"/><path d="M445 170 L480 140 L520 160 C530 215 555 265 600 285 L650 288 L700 350 L715 385 L612 440 L600 580 L612 700 L588 750 L555 735 L540 700 C535 670 520 635 495 602 L420 605 C385 600 365 570 372 540 C378 515 400 505 420 500 C400 450 405 390 425 350 L462 318Z" fill="#fff"/><path d="M520 160 C528 215 555 262 598 282 L648 286" stroke-width="22"/><path d="M462 318 C520 320 580 370 612 440 M650 420 C662 470 655 520 640 565 M612 440 L650 420 M640 700 L765 640 C760 590 735 555 700 550 L650 592 M615 600 L625 690" /><path d="M608 560 L632 560 L632 690 L612 700Z" fill="#000" stroke-width="5"/><ellipse cx="520" cy="470" rx="70" ry="118" transform="rotate(-27 520 470)"/><ellipse cx="520" cy="472" rx="50" ry="88" transform="rotate(-27 520 472)"/><ellipse cx="522" cy="475" rx="30" ry="62" transform="rotate(-27 522 475)"/><circle cx="490" cy="200" r="12" fill="#000"/><circle cx="665" cy="350" r="12" fill="#000"/><circle cx="415" cy="555" r="12" fill="#000"/><circle cx="570" cy="690" r="12" fill="#000"/></g>
<path d="M200 656 L213.5 648.5"/>
<g transform="translate(491 670.5) scale(0.09024) translate(-830 -178)" stroke-width="12.74"><ellipse cx="878" cy="154" rx="80" ry="118" transform="rotate(-27 878 154)" fill="#fff"/><path d="M884 283 L932 259 L824 49 L776 73Z" fill="#fff" stroke="none"/><path d="M884 283 L932 259 M824 49 L776 73"/><ellipse cx="830" cy="178" rx="80" ry="118" transform="rotate(-27 830 178)" fill="#fff"/><ellipse cx="830" cy="178" rx="60" ry="92" transform="rotate(-27 830 178)"/><ellipse cx="830" cy="178" rx="42" ry="70" transform="rotate(-27 830 178)" stroke-width="16"/><ellipse cx="830" cy="178" rx="22" ry="40" transform="rotate(-27 830 178)"/></g>
<g transform="translate(467.7 683.8) scale(0.09258) translate(-572 -318)" stroke-width="12.42"><ellipse cx="634" cy="286" rx="104" ry="150" transform="rotate(-27 634 286)" fill="#fff"/><path d="M640 452 L702 420 L566 152 L504 184Z" fill="#fff" stroke="none"/><path d="M640 452 L702 420 M566 152 L504 184"/><ellipse cx="572" cy="318" rx="104" ry="150" transform="rotate(-27 572 318)" fill="#fff"/><ellipse cx="572" cy="318" rx="80" ry="120" transform="rotate(-27 572 318)" stroke-width="30"/><ellipse cx="572" cy="318" rx="45" ry="72" transform="rotate(-27 572 318)" stroke-width="22"/><ellipse cx="572" cy="318" rx="24" ry="42" transform="rotate(-27 572 318)" fill="#fff"/></g>
<g transform="translate(442.5 698) scale(0.09141) translate(-320 -490)" stroke-width="12.58"><path d="M453 422 L459 434 L446 451 L449 462 L472 473 L475 486 L456 494 L457 504 L478 524 L478 536 L456 533 L454 542 L470 568 L466 578 L443 565 L439 571 L449 600 L442 606 L422 585 L415 588 L418 616 L409 618 L392 591 L384 590 L379 615 L369 611 L360 582 L351 578 L339 595 L329 588 L327 559 L320 552 L301 560 L293 550 L299 526 L293 516 L271 514 L265 502 L278 485 L275 474 L252 463 L249 450 L268 442 L267 432 L246 412 L246 400 L268 403 L270 394 L254 368 L258 358 L281 371 L285 365 L275 336 L282 330 L302 351 L309 348 L306 320 L315 318 L332 345 L340 346 L345 321 L355 325 L364 354 L373 358 L385 341 L395 348 L397 377 L404 384 L423 376 L431 386 L425 410 L431 420Z" fill="#fff" stroke-width="14"/><path d="M403 449 L409 461 L396 478 L399 489 L422 500 L425 513 L406 521 L407 531 L428 551 L428 563 L406 560 L404 569 L420 595 L416 605 L393 592 L389 598 L399 627 L392 633 L372 612 L365 615 L368 643 L359 645 L342 618 L334 617 L329 642 L319 638 L310 609 L301 605 L289 622 L279 615 L277 586 L270 579 L251 587 L243 577 L249 553 L243 543 L221 541 L215 529 L228 512 L225 501 L202 490 L199 477 L218 469 L217 459 L196 439 L196 427 L218 430 L220 421 L204 395 L208 385 L231 398 L235 392 L225 363 L232 357 L252 378 L259 375 L256 347 L265 345 L282 372 L290 373 L295 348 L305 352 L314 381 L323 385 L335 368 L345 375 L347 404 L354 411 L373 403 L381 413 L375 437 L381 447Z" fill="#fff" stroke-width="14"/><ellipse cx="308" cy="498" rx="62" ry="100" transform="rotate(-27 308 498)"/><ellipse cx="305" cy="495" rx="25" ry="45" transform="rotate(-27 305 495)"/></g>
<g transform="translate(422.8 710) scale(0.09141) translate(-105 -602)" stroke-width="12.58"><ellipse cx="150" cy="580" rx="64" ry="95" transform="rotate(-27 150 580)" fill="#fff"/><path d="M148 687 L193 665 L107 495 L62 517Z" fill="#fff" stroke="none"/><path d="M148 687 L193 665 M107 495 L62 517"/><ellipse cx="105" cy="602" rx="64" ry="95" transform="rotate(-27 105 602)" fill="#fff"/><ellipse cx="105" cy="602" rx="44" ry="68" transform="rotate(-27 105 602)"/><ellipse cx="105" cy="602" rx="27" ry="45" transform="rotate(-27 105 602)" stroke-width="14"/><ellipse cx="105" cy="602" rx="11" ry="20" transform="rotate(-27 105 602)"/></g>
<g transform="translate(385.6 731.4) scale(0.07715) translate(-520 -470)" stroke-width="14.91"><path d="M480 140 L600 65 C625 55 655 65 672 90 C688 115 688 145 678 162 L570 222Z" fill="#fff"/><path d="M650 285 L790 210 C815 202 835 212 848 240 C860 270 860 295 852 308 L715 385Z" fill="#fff"/><path d="M445 170 L480 140 L520 160 C530 215 555 265 600 285 L650 288 L700 350 L715 385 L612 440 L600 580 L612 700 L588 750 L555 735 L540 700 C535 670 520 635 495 602 L420 605 C385 600 365 570 372 540 C378 515 400 505 420 500 C400 450 405 390 425 350 L462 318Z" fill="#fff"/><path d="M520 160 C528 215 555 262 598 282 L648 286" stroke-width="22"/><path d="M462 318 C520 320 580 370 612 440 M650 420 C662 470 655 520 640 565 M612 440 L650 420 M640 700 L765 640 C760 590 735 555 700 550 L650 592 M615 600 L625 690" /><path d="M608 560 L632 560 L632 690 L612 700Z" fill="#000" stroke-width="5"/><ellipse cx="520" cy="470" rx="70" ry="118" transform="rotate(-27 520 470)"/><ellipse cx="520" cy="472" rx="50" ry="88" transform="rotate(-27 520 472)"/><ellipse cx="522" cy="475" rx="30" ry="62" transform="rotate(-27 522 475)"/><circle cx="490" cy="200" r="12" fill="#000"/><circle cx="665" cy="350" r="12" fill="#000"/><circle cx="415" cy="555" r="12" fill="#000"/><circle cx="570" cy="690" r="12" fill="#000"/></g>
<g transform="translate(609.9 601.3) scale(0.06172) translate(-440 -482)" stroke-width="18.63"><path d="M560 322 L835 162 C860 150 890 175 905 210 C915 235 915 255 905 268 L612 440Z" fill="#fff"/><path d="M672 258 C700 280 720 330 722 375 M728 226 C755 250 772 295 775 340"/><ellipse cx="505" cy="435" rx="92" ry="140" transform="rotate(-28 505 435)" fill="#fff"/><path d="M310 425 L385 330 L440 300 L560 330 L600 500 L470 610 L420 600Z" fill="#fff" stroke="none"/><path d="M310 425 C315 380 345 340 390 318 C430 298 480 292 510 300 M600 515 C585 555 540 585 480 608 C455 615 435 610 420 600"/><ellipse cx="440" cy="482" rx="72" ry="128" transform="rotate(-28 440 482)" fill="#fff"/><ellipse cx="425" cy="492" rx="60" ry="112" transform="rotate(-28 425 492)"/><ellipse cx="405" cy="505" rx="48" ry="95" transform="rotate(-28 405 505)" stroke-width="20"/><path d="M120 555 L330 445 C370 440 410 500 412 572 L200 692Z" fill="#fff"/><ellipse cx="158" cy="622" rx="42" ry="70" transform="rotate(-28 158 622)" fill="#fff" stroke-width="26"/></g>
<g transform="translate(678.4 561.4) scale(0.07812) translate(-650 -455)" stroke-width="14.72"><path d="M585 122 L650 80 L685 80 L672 145 M625 112 L665 95 L652 140Z M700 160 L770 120 L795 130 L752 188 M725 158 L770 135"/><path d="M850 335 L950 320 L960 345 L892 395 M870 350 L935 340 L885 375Z M928 570 L1005 580 L1000 605 L912 665 M935 590 L985 595 L930 635Z"/><ellipse cx="668" cy="443" rx="231" ry="358" transform="rotate(-24 668 443)" fill="#fff"/><ellipse cx="642" cy="455" rx="231" ry="358" transform="rotate(-24 642 455)" fill="#fff"/><ellipse cx="645" cy="465" rx="119" ry="185" transform="rotate(-24 645 465)"/><ellipse cx="660" cy="455" rx="58" ry="90" transform="rotate(-24 660 455)"/><ellipse cx="660" cy="455" rx="40" ry="62" transform="rotate(-24 660 455)"/><ellipse cx="660" cy="455" rx="24" ry="38" transform="rotate(-24 660 455)" fill="#000"/></g>
<g transform="translate(646.4 581.7) scale(0.07715) translate(-215 -712)" stroke-width="14.91"><path d="M215 590 L320 545 L365 548 L425 625 L428 690 L380 770 L300 830" fill="#fff"/><path d="M300 575 C340 600 370 660 360 740 M330 560 C372 590 400 650 390 725 M355 552 C398 585 425 640 415 700"/><ellipse cx="235" cy="700" rx="80" ry="120" transform="rotate(-24 235 700)" fill="#fff" stroke-width="16"/><ellipse cx="215" cy="712" rx="74" ry="112" transform="rotate(-24 215 712)" fill="#fff"/><ellipse cx="215" cy="712" rx="56" ry="85" transform="rotate(-24 215 712)"/><ellipse cx="215" cy="715" rx="38" ry="58" transform="rotate(-24 215 715)" stroke-width="14"/><ellipse cx="215" cy="718" rx="18" ry="30" transform="rotate(-24 215 718)"/></g>
<g transform="translate(736.25 529.5) scale(0.08578) translate(-405 -598)" stroke-width="13.41">
<path d="M160 225 C200 150 260 100 330 90 C420 85 500 120 545 155 C560 128 610 122 640 150 C662 180 670 230 665 272"/>
<path d="M545 155 L680 290 C740 360 800 450 822 530 C840 600 832 680 795 775 C770 830 730 870 680 892"/>
<path d="M665 272 C730 350 780 440 800 520 C815 600 805 690 765 775 C745 815 725 840 700 860"/>
<g transform="translate(405 598) rotate(-22)">
<ellipse rx="262" ry="335"/><ellipse rx="243" ry="316"/><ellipse rx="205" ry="285"/><ellipse rx="168" ry="250"/>
</g>
<path d="M382 368 C395 350 430 352 470 390 C530 450 600 560 628 650 C640 700 642 730 638 745 C600 740 540 700 480 640 C430 585 395 500 385 430 C380 400 380 380 382 368Z"/>
<path d="M405 385 C405 450 430 530 480 600 C520 650 580 700 632 722 M432 395 C430 450 455 525 500 585 C540 635 590 672 635 690 M318 330 C330 315 360 312 395 330"/>
<path d="M350 232 C360 200 385 182 415 185 C450 190 470 230 485 265 C500 300 520 322 560 330 C610 335 640 355 652 400 C665 450 660 520 668 580 C680 660 700 720 690 800 C680 850 650 880 610 905"/>
<path d="M395 300 C420 300 450 310 480 340 C520 380 540 410 575 450 C620 510 640 600 640 700" />
<ellipse cx="272" cy="190" rx="20" ry="26" transform="rotate(-20 272 190)"/><ellipse cx="290" cy="218" rx="14" ry="18"/>
<ellipse cx="387" cy="255" rx="19" ry="25" transform="rotate(-20 387 255)"/>
<ellipse cx="565" cy="415" rx="18" ry="24" transform="rotate(-20 565 415)"/>
<ellipse cx="210" cy="785" rx="18" ry="25" transform="rotate(-20 210 785)"/>
<ellipse cx="440" cy="970" rx="19" ry="25" transform="rotate(-20 440 970)"/>
<path d="M235 150 C270 120 320 130 345 180 C355 215 350 250 335 275"/>
<path d="M185 620 C150 600 110 615 100 650 C95 690 125 725 165 725 M125 640 C150 635 170 655 170 685"/>
<path d="M175 740 C175 800 200 840 240 850 L310 815 C350 830 375 870 385 920 C395 980 420 1020 470 1020 L490 940 L540 935 L535 975"/>
<path d="M215 830 L330 1020 L430 1135 M370 1045 L460 1095"/>
<path d="M440 1185 C435 1160 445 1145 455 1130 L560 952 C590 915 640 890 715 885 C770 890 805 930 812 985 L815 1150 C812 1180 800 1195 780 1210 L690 1268 C640 1300 590 1310 555 1295 L465 1240 C445 1225 440 1205 440 1185Z"/>
<path d="M458 1185 C455 1165 462 1150 472 1135 L572 965 C600 930 645 908 712 903 C760 908 788 940 794 990 L797 1145 C795 1170 785 1182 768 1195 L682 1250 C638 1280 595 1288 563 1275 L480 1225 C462 1212 458 1200 458 1185Z"/>
<g transform="translate(660 1088) rotate(28)"><ellipse rx="100" ry="150"/><ellipse rx="88" ry="137"/><ellipse rx="72" ry="120"/><ellipse rx="62" ry="108"/></g>
<path d="M480 1175 L505 1195 L490 1215 L470 1198Z M765 1165 L790 1178 L778 1205 L755 1190Z"/>
</g>
<g transform="translate(480 570) scale(0.195312)" stroke-width="5.9136"><path d="M205 265 C205 240 225 225 245 225 C262 228 268 245 272 258 L320 300 L345 335 C375 370 395 410 395 455 C392 490 370 510 350 522 L298 555 C296 580 285 598 265 600 C245 598 235 580 228 552 L180 515 C165 520 140 515 132 498 C128 480 135 468 148 462 C120 400 125 330 160 290Z" fill="#fff"/><path d="M272 258 C300 290 320 330 325 375 M300 285 C335 330 350 380 350 430 C350 470 335 505 310 530"/><ellipse cx="235" cy="402" rx="100" ry="150" transform="rotate(-25 235 402)" fill="#fff"/><ellipse cx="235" cy="405" rx="88" ry="135" transform="rotate(-25 235 405)"/><ellipse cx="225" cy="415" rx="50" ry="78" transform="rotate(-25 225 415)"/><ellipse cx="225" cy="415" rx="38" ry="62" transform="rotate(-25 225 415)"/><ellipse cx="225" cy="418" rx="26" ry="46" transform="rotate(-25 225 418)"/></g>
<g transform="translate(225 880) scale(0.15625)" stroke-width="9.152"><path d="M125 605 C165 555 200 510 230 480 C255 455 275 440 300 425 L680 182 C700 175 722 185 738 210 C748 228 752 240 750 252 L370 500 C340 520 320 540 300 562 L205 670"/><ellipse cx="165" cy="637" rx="52" ry="22" transform="rotate(39 165 637)" stroke-width="11"/><ellipse cx="165" cy="637" rx="22" ry="8" transform="rotate(39 165 637)"/><ellipse cx="108" cy="705" rx="42" ry="17" transform="rotate(39 108 705)"/><ellipse cx="108" cy="705" rx="30" ry="9" transform="rotate(39 108 705)"/><path d="M95 660 L125 665 L150 700 L180 700 L182 715 L150 730 L130 750" stroke-width="9"/><path d="M100 665 L128 672 L135 700 L110 690Z" fill="#000" stroke-width="4"/><ellipse cx="790" cy="172" rx="48" ry="24" transform="rotate(42 790 172)" stroke-width="10"/><ellipse cx="792" cy="170" rx="36" ry="14" transform="rotate(42 792 170)"/><path d="M768 100 L802 98 L808 135 L775 140Z" fill="#000" stroke-width="4"/><circle cx="850" cy="152" r="13"/><path d="M810 140 L840 142"/></g>
<g transform="translate(300 790) scale(0.25)" stroke-width="5.5"><path d="M250 392 L330 342 M500 236 L560 198 C575 190 590 195 598 210 C606 225 605 240 598 246 L560 268 M400 369 L290 440"/><path d="M330 342 L500 236 M400 369 L505 302" stroke-dasharray="22 10"/><ellipse cx="262" cy="422" rx="24" ry="32" transform="rotate(-25 262 422)" stroke-width="7"/><ellipse cx="262" cy="422" rx="13" ry="19" transform="rotate(-25 262 422)"/><path d="M252 410 L275 415 L270 440"/><path d="M498 248 C505 240 520 232 532 232 C545 240 552 262 548 280 L528 292 L548 305 L580 288 L572 268 L552 275"/><path d="M500 250 C512 262 518 280 515 295 L528 292"/><ellipse cx="548" cy="286" rx="9" ry="6" transform="rotate(-30 548 286)"/><path d="M580 215 C590 212 598 220 600 232"/></g>
<g transform="translate(580 800) scale(0.25)" stroke-width="4.4"><path d="M135 525 C105 500 92 450 105 410 C115 385 140 370 165 360 L250 318 M405 238 C430 220 438 195 440 170 C442 150 450 135 462 125 C490 105 545 102 585 130 C605 145 612 170 608 200 C600 225 585 240 580 250 L545 305"/><path d="M250 318 L405 238" stroke-dasharray="40 12"/><path d="M440 170 C460 140 520 135 560 160 C580 175 590 200 588 225 M452 150 C480 125 540 125 578 150" /><path d="M135 525 L180 498 C205 485 230 478 250 470 L330 430 M560 312 L710 212 L710 160 L800 110 L835 118 M710 160 L790 205"/><path d="M330 430 L560 312 M790 205 L870 245" stroke-dasharray="42 12"/><path d="M135 525 L215 515 L262 545 M265 548 L320 515 L385 548 L385 590 L330 618 L265 585Z M385 585 L500 525 M95 500 C100 560 115 600 125 640 L125 845 M105 560 L125 640"/><path d="M500 525 L520 512 M330 642 L500 548 M430 580 L435 720" stroke-dasharray="30 10"/><path d="M148 680 L100 700 C80 710 70 730 72 750 C75 770 90 782 110 785 L210 800 M175 738 C210 740 240 745 262 752"/><path d="M262 760 C268 720 300 670 350 645 M295 735 C300 705 325 675 360 660 M262 760 L280 770 L295 738 M340 648 L355 665"/><ellipse cx="300" cy="800" rx="26" ry="36" transform="rotate(25 300 800)"/><path d="M280 775 L240 800 M330 770 L310 765"/><ellipse cx="203" cy="828" rx="20" ry="25" transform="rotate(25 203 828)"/><path d="M190 808 L230 795 L262 812 M215 850 L240 835 L270 820"/><path d="M520 540 L520 450 C525 400 560 350 610 320 C660 295 710 268 745 258 C790 255 840 285 870 330 C895 370 905 410 885 445 M590 540 L590 450 C600 410 640 375 690 350 C730 332 770 322 800 332 C820 345 825 370 820 390"/><ellipse cx="555" cy="540" rx="35" ry="14"/><path d="M520 450 C535 430 575 430 590 450 M530 430 C548 415 585 420 600 440"/><path d="M600 470 L800 365 M640 320 L700 285" stroke-dasharray="40 12"/><path d="M490 535 L498 550 L520 545 M590 530 L615 535 L612 550"/><path d="M820 170 C815 140 825 100 855 92 C880 95 892 130 890 170 M895 125 C915 112 945 112 960 125 M900 150 C930 140 960 150 985 175 L1024 200"/><path d="M960 125 L1024 185 M880 215 C920 195 980 190 1024 200" stroke-dasharray="36 12"/><path d="M920 270 C950 250 990 250 1020 268 M820 345 C830 330 850 322 868 320"/></g>
<g transform="translate(700 800) scale(0.25)" stroke-width="4.4"><path d="M540 262 C550 245 575 235 598 240 C615 270 625 310 618 360 C610 400 590 420 570 435 L432 560 M540 262 C560 290 570 330 560 365 C555 385 545 400 530 410 M398 518 C420 500 445 510 455 540 M590 420 L590 520 M618 380 L618 400"/><path d="M530 410 L398 518 M618 400 L618 520" stroke-dasharray="36 12"/><path d="M545 270 C560 255 580 250 600 255"/><path d="M618 400 C670 420 715 470 740 522"/><path d="M410 230 C440 205 480 195 515 200 M440 268 C470 250 510 250 535 265" stroke-dasharray="60 14"/></g>
</svg>
<div id="bar"></div>
<div id="cap"><span style="left:261.8px;letter-spacing:-2px">ISUZU </span><span style="left:381.9px">- </span><span style="left:403.5px;letter-spacing:0.36px">1873109960     </span><span style="left:679px">N </span><span style="left:715.9px">- </span><span style="left:738.6px">1</span></div>
</body></html>
